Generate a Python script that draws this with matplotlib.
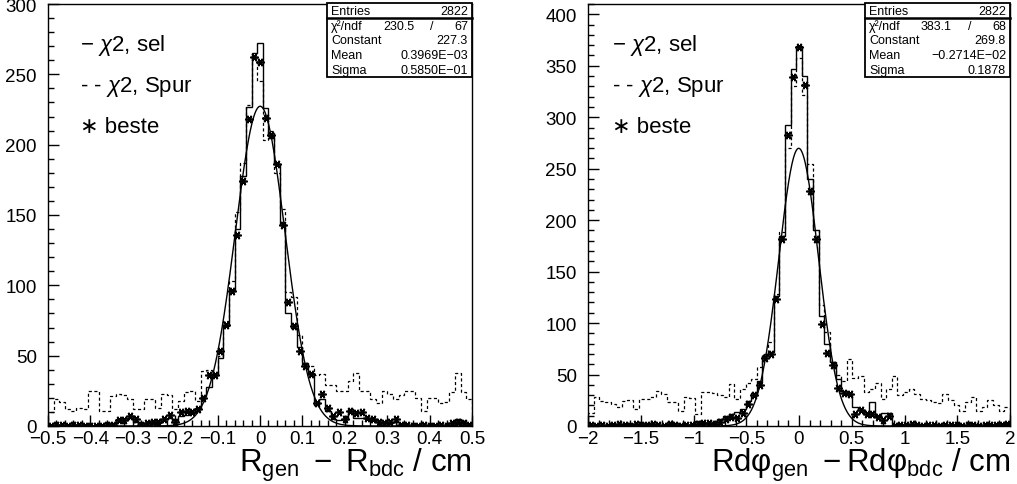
import numpy as np
import matplotlib
matplotlib.use("Agg")
import matplotlib.pyplot as plt
from matplotlib.ticker import MultipleLocator, FuncFormatter
from matplotlib.patches import Rectangle
from matplotlib.lines import Line2D

plt.rcParams['font.family'] = ['Liberation Sans', 'DejaVu Sans']
plt.rcParams['mathtext.fontset'] = 'custom'
plt.rcParams['mathtext.rm'] = 'Liberation Sans'
plt.rcParams['mathtext.it'] = 'Liberation Sans:italic'
plt.rcParams['mathtext.bf'] = 'Liberation Sans:bold'

# ---------------- data ----------------
range_R = (-0.5, 0.5)
sel_R = [0, 1, 0, 0, 1, 1, 0, 0, 0, 1, 1, 2, 5, 4, 6, 3, 1, 2, 3, 2, 5, 6, 3, 7, 8,
         9, 13, 21, 28, 36, 48, 71, 97, 140, 178, 227, 265, 272, 226, 206, 186, 143, 80, 70, 56,
         45, 38, 15, 19, 11, 5, 4, 5, 12, 6, 6, 5, 4, 3, 2, 2, 3, 1, 1, 0,
         0, 1, 0, 0, 1, 0, 1, 5, 1, 1]
spur_R = [10, 19, 17, 12, 11, 13, 12, 25, 25, 11, 11, 21, 23, 22, 19, 12, 12, 19, 19, 13, 23, 22, 12, 18, 24,
          25, 18, 39, 40, 37, 50, 75, 103, 152, 187, 228, 262, 245, 203, 210, 180, 154, 95, 92, 65,
          43, 43, 36, 37, 29, 29, 25, 25, 32, 38, 25, 25, 19, 16, 25, 23, 19, 22, 25, 25,
          20, 11, 20, 20, 16, 17, 24, 38, 24, 19]
beste_R = [0, 1, 1, 0, 1, 1, 0, 0, 0, 0, 1, 1, 4, 4, 7, 5, 1, 2, 3, 3, 5, 8, 3, 10, 11,
           10, 12, 20, 36, 36, 53, 72, 96, 136, 174, 218, 262, 259, 219, 207, 186, 143, 88, 71, 53,
           43, 37, 16, 23, 13, 7, 10, 5, 11, 9, 10, 6, 5, 3, 2, 3, 5, 1, 1, 0,
           0, 1, 0, 0, 1, 0, 2, 3, 2, 1]
fit_R = {"Constant": 227.3, "Mean": 0.3969e-03, "Sigma": 0.5850e-01}
stats_R = {"Entries": "2822", "chi2": "230.5", "ndf": "67",
           "Constant": "227.3", "Mean": "0.3969E\u221203", "Sigma": "0.5850E\u221201"}

range_P = (-2.0, 2.0)
sel_P = [1, 0, 1, 0, 2, 1, 0, 2, 1, 1, 3, 1, 0, 1, 4, 3, 2, 0, 1, 5, 3, 2, 4, 7, 10,
         12, 14, 17, 24, 32, 44, 68, 72, 126, 185, 292, 347, 369, 340, 240, 190, 107, 80, 62, 46,
         34, 30, 18, 16, 12, 23, 10, 13, 13, 1, 2, 1, 1, 2, 1, 0, 1, 2, 1, 1,
         2, 1, 1, 2, 1, 1, 2, 1, 1, 3]
spur_P = [13, 28, 24, 23, 21, 18, 24, 25, 17, 26, 26, 28, 34, 31, 23, 23, 15, 28, 27, 12, 33, 33, 32, 30, 28,
          41, 26, 36, 42, 46, 57, 70, 82, 128, 188, 270, 330, 358, 322, 255, 190, 118, 91, 60, 50,
          44, 65, 47, 49, 33, 36, 42, 26, 36, 49, 30, 33, 36, 31, 26, 25, 23, 22, 31, 25,
          20, 15, 23, 28, 15, 18, 25, 20, 15, 18]
beste_P = [1, 0, 1, 0, 1, 2, 1, 0, 2, 1, 1, 2, 1, 0, 2, 1, 0, 1, 1, 2, 3, 3, 2, 4, 7,
           9, 8, 13, 21, 30, 40, 66, 70, 123, 182, 283, 339, 368, 331, 228, 182, 99, 71, 59, 37,
           32, 31, 12, 16, 12, 12, 9, 6, 10, 0, 1, 1, 2, 1, 0, 1, 1, 0, 1, 1,
           1, 0, 1, 1, 0, 1, 1, 1, 1, 2]
fit_P = {"Constant": 269.8, "Mean": -0.2714e-02, "Sigma": 0.1878}
stats_P = {"Entries": "2822", "chi2": "383.1", "ndf": "68",
           "Constant": "269.8", "Mean": "\u22120.2714E\u221202", "Sigma": "0.1878"}

legend_labels = ["\u2212 $\\chi$2, sel", "- - $\\chi$2, Spur", "\u2217 beste"]
xlabel_R = r"$\mathregular{R_{gen}\ -\ R_{bdc}\ /\ cm}$"
xlabel_P = r"$\mathregular{Rd\varphi_{gen}\ -Rd\varphi_{bdc}\ /\ cm}$"

# ---------------- figure ----------------
W, H = 1017, 485
fig = plt.figure(figsize=(W / 100, H / 100), dpi=100)


def rect(x0, x1, y0, y1):
    return [x0 / W, 1 - y1 / H, (x1 - x0) / W, (y1 - y0) / H]


def fmt(v, pos):
    s = "%g" % round(v, 6)
    return s.replace("-", "\u2212")


def draw(ax, xr, sel, spur, beste, fit, ylim, xmaj, xmin):
    n = len(sel)
    edges = np.linspace(xr[0], xr[1], n + 1)
    centers = 0.5 * (edges[:-1] + edges[1:])
    ax.stairs(sel, edges, color="black", lw=1.0, baseline=0)
    ax.stairs(spur, edges, color="black", lw=0.9, baseline=0, linestyle=(0, (2.5, 2.0)))
    ax.plot(centers, beste, ls="none", marker=(6, 2, 90), ms=6, mew=1.2, color="black")
    xx = np.linspace(xr[0], xr[1], 800)
    yy = fit["Constant"] * np.exp(-0.5 * ((xx - fit["Mean"]) / fit["Sigma"]) ** 2)
    ax.plot(xx, yy, color="black", lw=1.0)
    ax.set_xlim(*xr)
    ax.set_ylim(*ylim)
    ax.xaxis.set_major_locator(MultipleLocator(xmaj))
    ax.xaxis.set_minor_locator(MultipleLocator(xmin))
    ax.yaxis.set_major_locator(MultipleLocator(50))
    ax.yaxis.set_minor_locator(MultipleLocator(10))
    ax.xaxis.set_major_formatter(FuncFormatter(fmt))
    ax.yaxis.set_major_formatter(FuncFormatter(fmt))
    ax.tick_params(which="both", direction="in", top=False, right=False, labelsize=13.5, width=1)
    ax.tick_params(which="major", length=8)
    ax.tick_params(which="minor", length=4)
    ax.tick_params(axis="x", pad=3)
    ax.tick_params(axis="y", pad=8)
    for s in ax.spines.values():
        s.set_linewidth(1.0)


def statbox(x0, x1, y0, y1, st):
    # coordinates in figure pixels (y downward)
    fx = lambda x: x / W
    fy = lambda y: 1 - y / H
    fig.patches.append(Rectangle((fx(x0), fy(y1)), fx(x1) - fx(x0), fy(y0) - fy(y1),
                                 transform=fig.transFigure, facecolor="white",
                                 edgecolor="black", lw=1.3, zorder=10))
    rowh = (y1 - y0) / 5.0
    sep = y0 + rowh
    fig.lines.append(Line2D([fx(x0), fx(x1)], [fy(sep), fy(sep)], transform=fig.transFigure,
                            color="black", lw=1.8, zorder=11))
    fs = 9
    rows = [("Entries", st["Entries"]), (None, None), ("Constant", st["Constant"]),
            ("Mean", st["Mean"]), ("Sigma", st["Sigma"])]
    for i, (lab, val) in enumerate(rows):
        yc = y0 + rowh * (i + 0.5) + 0.5
        if lab is None:
            fig.text(fx(x0 + 4), fy(yc), "\u03c7\u00b2/ndf", fontsize=fs, ha="left", va="center", zorder=12)
            fig.text(fx(x1 - 58), fy(yc), st["chi2"], fontsize=fs, ha="right", va="center", zorder=12)
            fig.text(fx(x1 - 40), fy(yc), "/", fontsize=fs, ha="center", va="center", zorder=12)
            fig.text(fx(x1 - 4), fy(yc), st["ndf"], fontsize=fs, ha="right", va="center", zorder=12)
        else:
            fig.text(fx(x0 + 4), fy(yc), lab, fontsize=fs, ha="left", va="center", zorder=12)
            fig.text(fx(x1 - 4), fy(yc), val, fontsize=fs, ha="right", va="center", zorder=12)


axL = fig.add_axes(rect(48, 472, 5, 427))
axR = fig.add_axes(rect(588, 1010, 5, 427))
draw(axL, range_R, sel_R, spur_R, beste_R, fit_R, (0, 300), 0.1, 0.02)
draw(axR, range_P, sel_P, spur_P, beste_P, fit_P, (0, 410), 0.5, 0.1)

statbox(327, 472, 4, 78, stats_R)
statbox(865, 1010, 4, 78, stats_P)

for x0 in (80, 612):
    for lab, yc in zip(legend_labels, (45, 87, 128)):
        fig.text(x0 / W, 1 - yc / H, lab, fontsize=16, ha="left", va="center")

fig.text(472 / W, 1 - 472 / H, xlabel_R, fontsize=22.5, ha="right", va="baseline")
fig.text(1010 / W, 1 - 472 / H, xlabel_P, fontsize=22.5, ha="right", va="baseline")

fig.savefig("out.png", dpi=100)
